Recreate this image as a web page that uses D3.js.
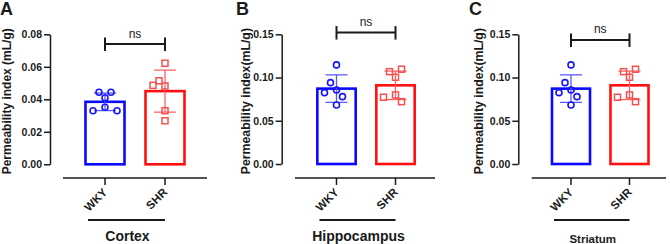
<!DOCTYPE html>
<html lang="en">
<head>
  <meta charset="UTF-8">
  <title>Permeability index - WKY vs SHR</title>
  <script src="https://d3js.org/d3.v7.min.js"></script>
  <style>
    body { margin: 0; background: #fff; }
    svg { display: block; font-family: "Liberation Sans", Arial, sans-serif; }
    .axis path, .axis line { stroke: #1a1a1a; stroke-width: 1.5px; }
    .axis text { font-size: 10.5px; font-weight: bold; fill: #1a1a1a; }
    .axis text.cat { font-size: 11.5px; }
    .title { font-weight: bold; fill: #1a1a1a; }
  </style>
</head>
<body>
  <svg width="670" height="244"></svg>
  <script>
    // data
    var categories = ["WKY", "SHR"];
    var regions = ["Cortex", "Hippocampus", "Striatum"];
    var panelLetters = ["A", "B", "C"];
    var yTitles = ["Permeability index (mL/g)", "Permeability index(mL/g)", "Permeability index(mL/g)"];

    var cortexWKY = [0.0443, 0.0443, 0.0410, 0.0351, 0.0330, 0.0330];
    var cortexSHR = [0.0622, 0.0514, 0.0486, 0.0482, 0.0330, 0.0268];
    var hippoWKY = [0.1146, 0.0941, 0.0856, 0.0825, 0.0779, 0.0683];
    var hippoSHR = [0.1096, 0.1068, 0.1003, 0.0799, 0.0772, 0.0721];
    var striatumWKY = [0.1146, 0.0941, 0.0856, 0.0825, 0.0779, 0.0683];
    var striatumSHR = [0.1096, 0.1068, 0.1003, 0.0799, 0.0772, 0.0721];

    var cortexTicks = [0, 0.02, 0.04, 0.06, 0.08];
    var hippoTicks = [0, 0.05, 0.10, 0.15];
    var striatumTicks = [0, 0.05, 0.10, 0.15];

    var sigLabels = ["ns", "ns", "ns"];
    var sigLevels = [0.074, 0.152, 0.1435];

    // layout (pixels) for each panel
    var layout = [
      {yAxisX: 50,    axisLine: [63, 207],    centers: [105, 165],     yPx: [164.3, 34.3], titleX: 11,    letterX: 0,   groupFont: 14,   groupY: 241},
      {yAxisX: 281.7, axisLine: [295, 435],   centers: [336.5, 395.5], yPx: [164, 34.3],   titleX: 249.5, letterX: 236, groupFont: 14,   groupY: 241},
      {yAxisX: 518.3, axisLine: [531.7, 666], centers: [571, 629.5],   yPx: [164, 34.3],   titleX: 483,   letterX: 469, groupFont: 11.5, groupY: 243}
    ];

    var values = [[cortexWKY, cortexSHR], [hippoWKY, hippoSHR], [striatumWKY, striatumSHR]];
    var ticks = [cortexTicks, hippoTicks, striatumTicks];

    var barColor = {WKY: "#0a0aff", SHR: "#ff1010"};
    var errColor = {WKY: "#5a5aff", SHR: "#ff6262"};
    var dotColor = {WKY: "#1515ff", SHR: "#f55050"};

    var svg = d3.select("svg");
    var dark = "#1a1a1a";

    // simple beeswarm: place points from the mean outward, nearest free column
    function swarm(vals, y, step, diam) {
      var mean = d3.mean(vals);
      var order = d3.range(vals.length).sort(function(a, b) {
        return Math.abs(vals[a] - mean) - Math.abs(vals[b] - mean);
      });
      var placed = [], off = [];
      order.forEach(function(i) {
        var py = y(vals[i]);
        for (var k = 0; k < 20; k++) {
          var dx = (k === 0 ? 0 : (k % 2 ? -1 : 1) * Math.ceil(k / 2) * step);
          var ok = placed.every(function(p) { return Math.hypot(p.dx - dx, p.py - py) >= diam; });
          if (ok) { placed.push({dx: dx, py: py}); off[i] = dx; break; }
        }
      });
      return off;
    }

    layout.forEach(function(L, p) {
      var g = svg.append("g");
      var tv = ticks[p];

      var y = d3.scaleLinear().domain([0, d3.max(tv)]).range(L.yPx);
      var x = d3.scalePoint().domain(categories).range(L.centers);
      var step = L.centers[1] - L.centers[0];
      var barW = step * 0.65;

      // y axis
      g.append("g")
        .attr("class", "axis")
        .attr("transform", "translate(" + L.yAxisX + ",0)")
        .call(d3.axisLeft(y).tickValues(tv).tickSize(6).tickSizeOuter(0).tickPadding(2).tickFormat(d3.format(".2f")));

      // x axis line (offset like Prism)
      var ax = g.append("g").attr("class", "axis");
      ax.append("line")
        .attr("x1", L.axisLine[0]).attr("x2", L.axisLine[1])
        .attr("y1", 178).attr("y2", 178);
      ax.selectAll(".xt").data(categories).enter().append("line")
        .attr("x1", function(d) { return x(d); }).attr("x2", function(d) { return x(d); })
        .attr("y1", 178).attr("y2", 185);
      ax.selectAll(".xl").data(categories).enter().append("text")
        .attr("class", "cat")
        .attr("text-anchor", "end")
        .attr("transform", function(d) { return "translate(" + (x(d) + 3) + ",193) rotate(-45)"; })
        .text(function(d) { return d; });

      // group line and region name
      g.append("line")
        .attr("x1", x("WKY") - 17).attr("x2", x("SHR"))
        .attr("y1", 220).attr("y2", 220)
        .attr("stroke", dark).attr("stroke-width", 2);
      g.append("text")
        .attr("class", "title")
        .attr("x", (x("WKY") - 17 + x("SHR")) / 2 + 1)
        .attr("y", L.groupY)
        .attr("text-anchor", "middle")
        .style("font-size", L.groupFont + "px")
        .text(regions[p]);

      // y title
      g.append("text")
        .attr("class", "title")
        .attr("transform", "translate(" + L.titleX + "," + ((L.yPx[0] + L.yPx[1]) / 2 + 2) + ") rotate(-90)")
        .attr("text-anchor", "middle")
        .style("font-size", p === 0 ? "12px" : "12.3px")
        .text(yTitles[p]);

      // panel letter
      g.append("text")
        .attr("class", "title")
        .attr("x", L.letterX).attr("y", 15)
        .style("font-size", "18px")
        .text(panelLetters[p]);

      // bars, error bars and points
      categories.forEach(function(c, ci) {
        var vals = values[p][ci];
        var m = d3.mean(vals), sd = d3.deviation(vals);
        var cx = x(c);

        g.append("rect")
          .attr("x", cx - barW / 2).attr("y", y(m))
          .attr("width", barW).attr("height", y(0) - y(m))
          .attr("fill", "#fff")
          .attr("stroke", barColor[c]).attr("stroke-width", 2.6);

        var eb = g.append("g").attr("stroke", errColor[c]).attr("stroke-width", 1.3);
        eb.append("line").attr("x1", cx).attr("x2", cx).attr("y1", y(m + sd)).attr("y2", y(m - sd));
        [m + sd, m - sd].forEach(function(v) {
          eb.append("line").attr("x1", cx - 11).attr("x2", cx + 11).attr("y1", y(v)).attr("y2", y(v));
        });

        var off = swarm(vals, y, 6, 7.5);
        if (c === "WKY") {
          g.selectAll(".dot" + p + c).data(vals).enter().append("circle")
            .attr("cx", function(d, i) { return cx + off[i]; })
            .attr("cy", function(d) { return y(d); })
            .attr("r", 3)
            .attr("fill", "none")
            .attr("stroke", dotColor[c]).attr("stroke-width", 1.6);
        } else {
          g.selectAll(".sq" + p + c).data(vals).enter().append("rect")
            .attr("x", function(d, i) { return cx + off[i] - 3; })
            .attr("y", function(d) { return y(d) - 3; })
            .attr("width", 6).attr("height", 6)
            .attr("fill", "none")
            .attr("stroke", dotColor[c]).attr("stroke-width", 1.5);
        }
      });

      // significance bracket
      var sy = y(sigLevels[p]);
      var br = g.append("g").attr("stroke", dark).attr("stroke-width", 2);
      br.append("line").attr("x1", x("WKY")).attr("x2", x("SHR")).attr("y1", sy).attr("y2", sy);
      categories.forEach(function(c) {
        br.append("line").attr("x1", x(c)).attr("x2", x(c)).attr("y1", sy - 6.5).attr("y2", sy + 7);
      });
      g.append("text")
        .attr("x", (x("WKY") + x("SHR")) / 2)
        .attr("y", sy - 6.5)
        .attr("text-anchor", "middle")
        .style("font-size", "12px")
        .attr("fill", dark)
        .text(sigLabels[p]);
    });
  </script>
</body>
</html>
